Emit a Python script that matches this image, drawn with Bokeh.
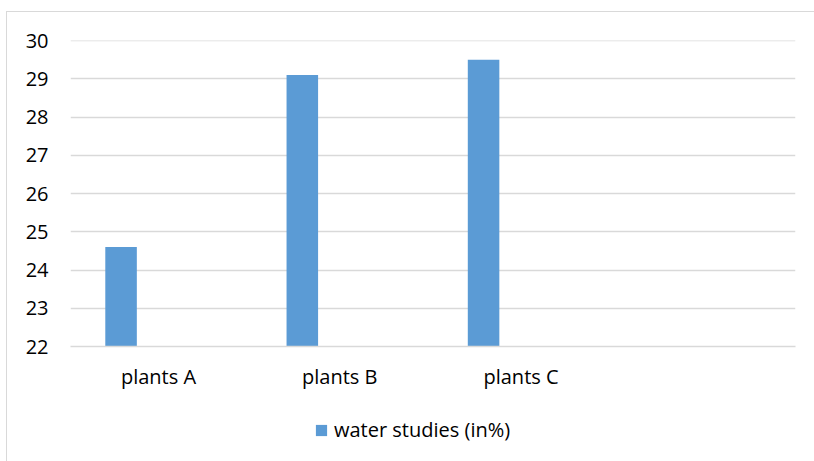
from bokeh.plotting import figure
from bokeh.layouts import column
from bokeh.models import ColumnDataSource, FactorRange, Range1d, FixedTicker, Legend, LegendItem, Span
from bokeh.transform import dodge
from bokeh.embed import file_html
from bokeh.resources import INLINE

categories = ["plants  A", "plants  B", "plants  C", " "]
bar_cats = ["plants  A", "plants  B", "plants  C"]
water = [24.6, 29.1, 29.5]
series_name = "water studies (in%)"
y_ticks = [22, 23, 24, 25, 26, 27, 28, 29, 30]

FONT = "Open Sans"
TXT = "#000000"
GRID = "#d9d9d9"
BAR = "#5b9bd5"

src = ColumnDataSource(dict(cat=bar_cats, val=water))

p = figure(
    width=807, height=390,
    x_range=FactorRange(*categories),
    y_range=Range1d(y_ticks[0], y_ticks[-1]),
    output_backend="svg", toolbar_location=None,
    min_border_left=63, min_border_right=19,
    min_border_top=28, min_border_bottom=56,
    outline_line_color=None,
)

r = p.vbar(x=dodge("cat", -0.221, range=p.x_range), top="val", bottom=y_ticks[0],
           width=0.174, source=src, fill_color=BAR, line_color=None)

p.xgrid.grid_line_color = None
p.ygrid.grid_line_color = GRID
p.ygrid.grid_line_width = 1.3
p.yaxis.ticker = FixedTicker(ticks=y_ticks)
p.add_layout(Span(location=y_ticks[-1], dimension="width", line_color=GRID, line_width=1.3))

for ax in (p.xaxis[0], p.yaxis[0]):
    ax.axis_line_color = None
    ax.major_tick_line_color = None
    ax.minor_tick_line_color = None
    ax.major_tick_out = 0
    ax.major_tick_in = 0
    ax.major_label_text_font = FONT
    ax.major_label_text_font_size = "20px"
    ax.major_label_text_color = TXT

p.xaxis.axis_line_color = GRID
p.xaxis.axis_line_width = 1.3
p.yaxis.major_label_standoff = 22
p.xaxis.major_label_standoff = 16

# legend strip below the chart (its frame is aligned with the chart's frame)
lg = figure(
    width=807, height=59,
    x_range=Range1d(0, 1), y_range=Range1d(0, 1),
    x_axis_type=None, y_axis_type=None,
    output_backend="svg", toolbar_location=None,
    min_border=0, outline_line_color=None,
)
lg.xgrid.visible = False
lg.ygrid.visible = False
# legend key proxy: one bar kept outside the visible range
key = lg.vbar(x=[-5], top=[-5], bottom=[-6], width=0.1, fill_color=BAR, line_color=None)

legend = Legend(
    items=[LegendItem(label=series_name, renderers=[key])],
    location=(244, 18),
    orientation="horizontal",
    glyph_width=14, glyph_height=14, label_standoff=6,
    padding=0, margin=0, spacing=0,
    border_line_color=None, background_fill_alpha=0,
    label_text_font=FONT, label_text_font_size="20px", label_text_color=TXT,
)
lg.add_layout(legend, "center")

layout = column(
    p, lg, spacing=0,
    styles={"margin-left": "6px", "margin-top": "11px",
            "border-left": "1px solid #d9d9d9", "border-top": "1px solid #d9d9d9"},
)

open("out.html", "w").write(file_html(layout, INLINE))
